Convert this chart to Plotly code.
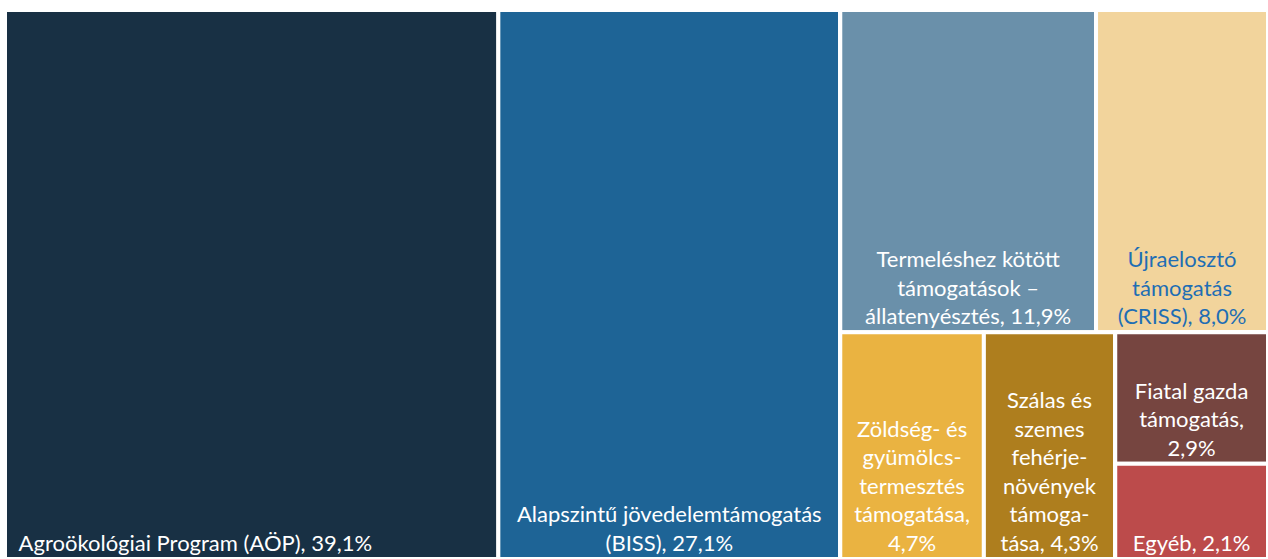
import plotly.graph_objects as go

# ---- data ----
leaf_names = [
    "Agroökológiai Program (AÖP)",
    "Alapszintű jövedelemtámogatás (BISS)",
    "Termeléshez kötött támogatások – állatenyésztés",
    "Újraelosztó támogatás (CRISS)",
    "Zöldség- és gyümölcstermesztés támogatása",
    "Szálas és szemes fehérjenövények támogatása",
    "Fiatal gazda támogatás",
    "Egyéb",
]
leaf_shares = [39.1, 27.1, 11.9, 8.0, 4.7, 4.3, 2.9, 2.1]
leaf_lines = [
    "Agroökológiai Program (AÖP)",
    "Alapszintű jövedelemtámogatás<br>",
    "Termeléshez kötött<br>támogatások –<br>",
    "Újraelosztó<br>támogatás<br>",
    "Zöldség- és<br>gyümölcs-<br>termesztés<br>támogatása,<br>",
    "Szálas és<br>szemes<br>fehérje-<br>növények<br>támoga-<br>",
    "Fiatal gazda<br>támogatás,<br>",
    "Egyéb",
]
leaf_tails = ["", "(BISS)", "állatenyésztés", "(CRISS)", "", "tása", "", ""]
leaf_groups = ["root", "root", "top", "top", "bottom", "bottom", "small", "small"]
leaf_colors = ["#183044", "#1E6496", "#6A90AA", "#F2D49C",
               "#EAB341", "#AE7E1E", "#764540", "#BC4B4B"]
leaf_text_colors = ["white", "white", "white", "#1F6EB4",
                    "white", "white", "white", "white"]

# grouping nodes of the layout (parent -> children order)
group_ids = ["root", "rest", "top", "bottom", "small"]
group_parents = ["", "root", "rest", "rest", "bottom"]
node_order = ["root", 0, 1, "rest", "top", 2, 3, "bottom", 4, 5, "small", 6, 7]


def fmt_pct(v):
    return f"{v:.1f}".replace(".", ",") + "%"


def leaf_text(i):
    pct = fmt_pct(leaf_shares[i])
    if i == 0:
        # left-aligned label: pad with no-break spaces
        return f"{leaf_lines[i]}, {pct}" + "\u00a0" * 20
    if leaf_tails[i]:
        return f"{leaf_lines[i]}{leaf_tails[i]}, {pct}"
    if leaf_lines[i].endswith("<br>"):
        return f"{leaf_lines[i]}{pct}"
    return f"{leaf_lines[i]}, {pct}"


ids, labels, parents, values, texts, colors, tcolors = [], [], [], [], [], [], []
for n in node_order:
    if isinstance(n, str):
        k = group_ids.index(n)
        ids.append(n)
        labels.append("")
        parents.append(group_parents[k])
        values.append(0)
        texts.append("")
        colors.append("white")
        tcolors.append("white")
    else:
        ids.append(f"leaf{n}")
        labels.append(leaf_names[n])
        parents.append(leaf_groups[n])
        values.append(leaf_shares[n])
        texts.append(leaf_text(n))
        colors.append(leaf_colors[n])
        tcolors.append(leaf_text_colors[n])

fig = go.Figure(go.Treemap(
    ids=ids,
    labels=labels,
    parents=parents,
    values=values,
    text=texts,
    branchvalues="remainder",
    sort=False,
    texttemplate="%{text}",
    textposition="bottom center",
    textfont=dict(family="Lato", size=22, color=tcolors),
    marker=dict(colors=colors, line=dict(color="white", width=4),
                pad=dict(t=0, l=0, r=0, b=0)),
    tiling=dict(packing="slice-dice", pad=0),
    pathbar=dict(visible=False),
    hoverinfo="skip",
    root=dict(color="white"),
))

fig.update_layout(
    margin=dict(l=5, r=0, t=10, b=0),
    paper_bgcolor="white",
    showlegend=False,
)

post = ("document.body.style.margin='0';"
        "document.body.style.overflow='hidden';"
        "Plotly.Plots.resize(document.getElementById('{plot_id}'));")
fig.write_html("out.html", post_script=post, config={"displayModeBar": False})
